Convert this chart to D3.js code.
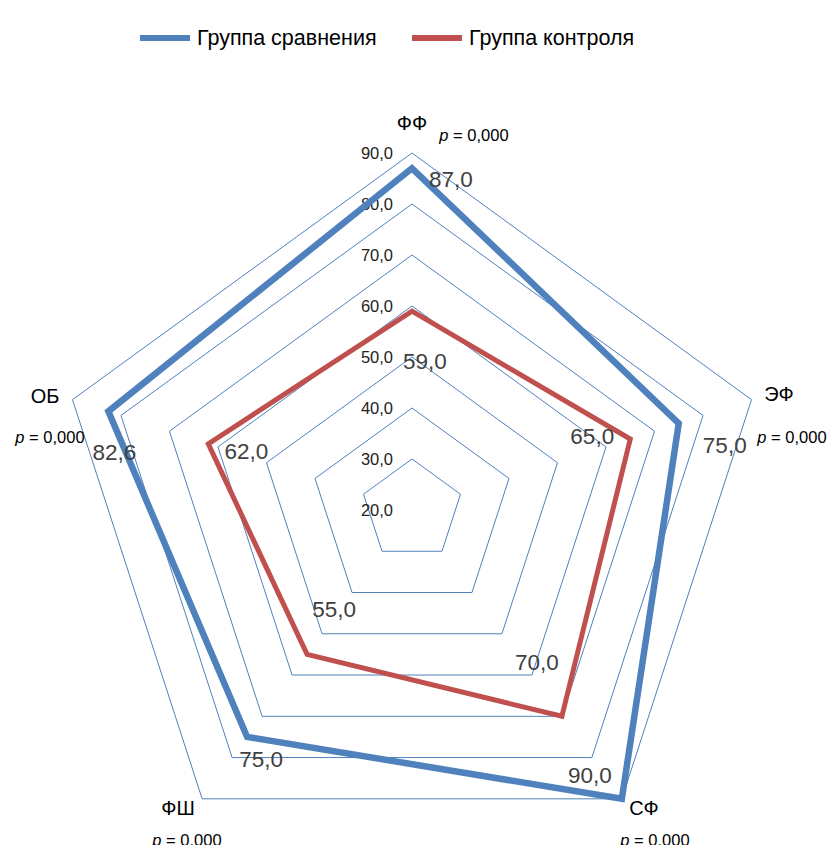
<!DOCTYPE html>
<html>
<head>
<meta charset="utf-8">
<script src="https://cdnjs.cloudflare.com/ajax/libs/d3/7.8.5/d3.min.js"></script>
<style>
  body { margin: 0; background: #fff; }
  svg { font-family: "Liberation Sans", Arial, sans-serif; }
</style>
</head>
<body>
<svg id="chart"></svg>
<script>
const width = 829;
const height = 845;

// categories (clockwise from top)
const axes = ['ФФ', 'ЭФ', 'СФ', 'ФШ', 'ОБ'];
const pLabels = ['0,000', '0,000', '0,000', '0,000', '0,000'];
const seriesNames = ['Группа сравнения', 'Группа контроля'];
const compareValues = [87.0, 75.0, 90.0, 75.0, 82.6];
const controlValues = [59.0, 65.0, 70.0, 55.0, 62.0];
const ticks = [20, 30, 40, 50, 60, 70, 80, 90];

const colors = ['#4F81BD', '#C0504D'];
const fmt = v => d3.format('.1f')(v).replace('.', ',');

// hand-placed label nudges, like the original chart
const labelShift = [
    [[39, 11], [46, 22], [-32, -23], [14, 23], [6, 41]],
    [[13, 50], [-38, -3], [-25, -54], [27, -45], [38, 8]]
];
const axisLabelPos = [[0, -387], [367, -116], [232, 298], [-234, 298], [-367, -114]];
const pLabelPos = [[62, -375], [380, -73], [243, 330], [-225, 330], [-362, -73]];

const cx = 412, cy = 510, R = 357;

const svg = d3.select('#chart')
    .attr('width', width)
    .attr('height', height);

const r = d3.scaleLinear().domain([20, 90]).range([0, R]);
const angle = d3.scalePoint().domain(axes).range([0, 2 * Math.PI * 4 / 5]);

function pt(cat, v) {
    const a = angle(cat);
    return [cx + r(v) * Math.sin(a), cy - r(v) * Math.cos(a)];
}

const line = d3.line().x(d => d[0]).y(d => d[1]).curve(d3.curveLinearClosed);

// grid pentagons
const grid = svg.append('g');
grid.selectAll('.ring')
    .data(ticks.slice(1))
    .enter().append('path')
        .attr('class', 'ring')
        .attr('d', t => line(axes.map(c => pt(c, t))))
        .style('fill', 'none')
        .style('stroke', '#4F81BD')
        .style('stroke-width', 1);

// tick labels
grid.selectAll('.tick')
    .data(ticks)
    .enter().append('text')
        .attr('x', cx - 19)
        .attr('y', t => cy - r(t) + 2)
        .attr('text-anchor', 'end')
        .attr('dominant-baseline', 'middle')
        .style('font-size', '16.5px')
        .style('fill', '#222')
        .text(t => fmt(t));

// series
const series = [compareValues, controlValues];
series.forEach((vals, s) => {
    svg.append('path')
        .attr('d', line(axes.map((c, i) => pt(c, vals[i]))))
        .style('fill', 'none')
        .style('stroke', colors[s])
        .style('stroke-width', s === 0 ? 6.5 : 5)
        .style('stroke-linejoin', 'miter');
});

// data labels
series.forEach((vals, s) => {
    svg.append('g').selectAll('text')
        .data(vals)
        .enter().append('text')
            .attr('x', (d, i) => pt(axes[i], d)[0] + labelShift[s][i][0])
            .attr('y', (d, i) => pt(axes[i], d)[1] + labelShift[s][i][1])
            .attr('text-anchor', 'middle')
            .attr('dominant-baseline', 'central')
            .style('font-size', '22.5px')
            .style('fill', '#404040')
            .text(d => fmt(d));
});

// category labels and p values
svg.append('g').selectAll('text')
    .data(axes)
    .enter().append('text')
        .attr('x', (d, i) => cx + axisLabelPos[i][0])
        .attr('y', (d, i) => cy + axisLabelPos[i][1])
        .attr('text-anchor', 'middle')
        .attr('dominant-baseline', 'central')
        .style('font-size', '20px')
        .style('fill', '#000')
        .text(d => d);

const pg = svg.append('g').selectAll('text')
    .data(pLabels)
    .enter().append('text')
        .attr('x', (d, i) => cx + pLabelPos[i][0])
        .attr('y', (d, i) => cy + pLabelPos[i][1])
        .attr('text-anchor', 'middle')
        .attr('dominant-baseline', 'central')
        .style('font-size', '16.5px')
        .style('fill', '#000');
pg.append('tspan').style('font-style', 'italic').text('p');
pg.append('tspan').text(d => ' = ' + d);

// legend
const legend = svg.append('g');
const legendX = [140, 412];
seriesNames.forEach((name, i) => {
    legend.append('line')
        .attr('x1', legendX[i]).attr('x2', legendX[i] + 50)
        .attr('y1', 38).attr('y2', 38)
        .style('stroke', colors[i])
        .style('stroke-width', 6);
    legend.append('text')
        .attr('x', legendX[i] + 57)
        .attr('y', 38)
        .attr('dominant-baseline', 'central')
        .style('font-size', '21.5px')
        .style('fill', '#000')
        .text(name);
});
</script>
</body>
</html>
